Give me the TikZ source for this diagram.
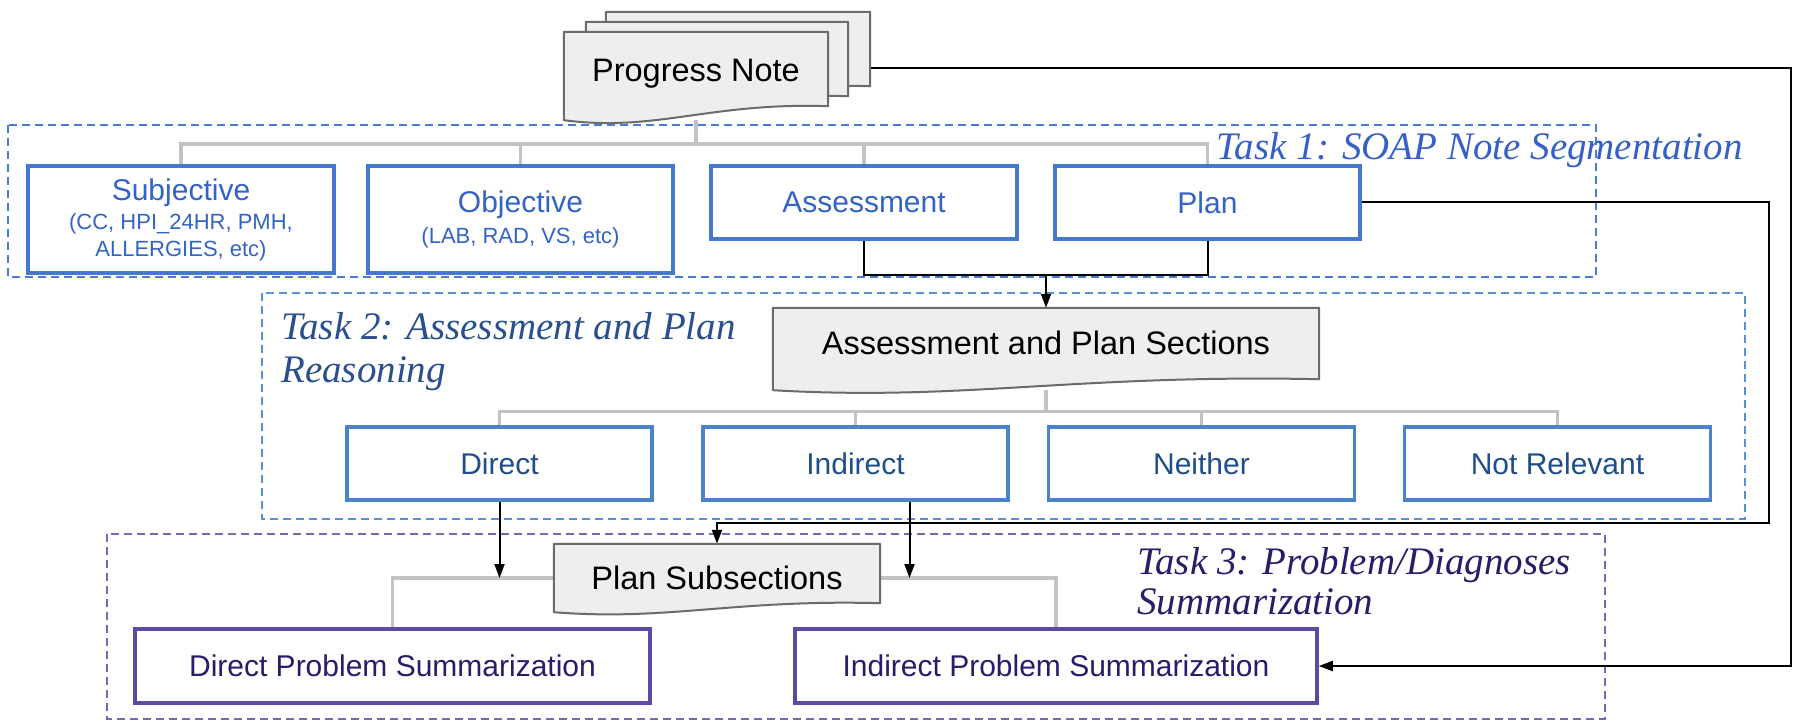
\documentclass[tikz,border=0pt]{standalone}
\usepackage{fontspec}
\setmainfont{Liberation Sans}
\newfontfamily\serifit{Liberation Serif}
\usetikzlibrary{calc,arrows.meta}
\pgfdeclarelayer{frames}
\pgfdeclarelayer{lines}
\pgfdeclarelayer{docs}
\pgfsetlayers{frames,lines,docs,main}
\definecolor{tonefr}{HTML}{4B7BD8}
\definecolor{toneb}{HTML}{4677D3}
\definecolor{tonet}{HTML}{3363C6}
\definecolor{tonel}{HTML}{3560C8}
\definecolor{ttwofr}{HTML}{5A8ED6}
\definecolor{ttwob}{HTML}{4A83C9}
\definecolor{ttwot}{HTML}{1F4E8C}
\definecolor{ttwol}{HTML}{2A4F8E}
\definecolor{tthrfr}{HTML}{7A67B8}
\definecolor{tthrb}{HTML}{5E49A4}
\definecolor{tthrt}{HTML}{2A1B6B}
\definecolor{tthrl}{HTML}{2B1B68}
\definecolor{docfill}{HTML}{EEEEEE}
\definecolor{docedge}{HTML}{6B6B6B}
\definecolor{treegray}{HTML}{C2C2C2}
\newcommand{\subf}{\fontsize{22}{26}\selectfont}
\newcommand{\docpath}[4]{%
  \draw[docline] (#1.north west) -- (#1.north east) -- ($(#1.south east)+(0,-#2)$)
    .. controls ($(#1.south west)!0.55!(#1.south east)+(0,-#3)$) and ($(#1.south west)!0.35!(#1.south east)+(0,#4)$) .. (#1.south west) -- cycle;}
\begin{document}
\begin{tikzpicture}[x=1pt,y=-1pt,
  boxbase/.style={rectangle, line width=3.5pt, fill=white, inner sep=0pt, align=center, font=\fontsize{30}{30}\selectfont},
  onebox/.style={boxbase, draw=toneb, text=tonet},
  twobox/.style={boxbase, draw=ttwob, text=ttwot, minimum height=73pt},
  threebox/.style={boxbase, draw=tthrb, text=tthrt, minimum height=74pt},
  docn/.style={rectangle, inner sep=0pt, font=\fontsize{32.5}{36}\selectfont, text=black},
  docline/.style={draw=docedge, fill=docfill, line width=2pt, line join=round},
  tree/.style={draw=treegray, line width=3.5pt},
  link/.style={draw=black, line width=2pt},
  arrowlink/.style={link, -{Triangle[length=14pt,width=10pt]}},
  frameone/.style={draw=tonefr, line width=2pt, dash pattern=on 8pt off 5pt},
  frametwo/.style={draw=ttwofr, line width=2pt, dash pattern=on 8pt off 5pt},
  framethree/.style={draw=tthrfr, line width=2pt, dash pattern=on 8pt off 5pt},
  tasklabel/.style={inner sep=0pt, align=left, font=\serifit\itshape\fontsize{39}{43}\selectfont}
]
\useasboundingbox (0,0) rectangle (1800,727);

% ---------- nodes ----------
\node[docn, minimum width=264pt, minimum height=88pt] (pnback) at (738,56) {};
\node[docn, minimum width=262pt, minimum height=88pt] (pnmid) at (717,66) {};
\node[docn, minimum width=264pt, minimum height=88pt, text depth=11pt] (pn) at (696,76) {Progress Note};

\node[onebox, minimum width=306pt, minimum height=107pt] (subj) at (181,219.5)
  {Subjective\\[-1pt]\subf (CC, HPI\_24HR, PMH,\\[-3pt]\subf ALLERGIES, etc)};
\node[onebox, minimum width=305pt, minimum height=107pt] (obj) at (520.5,219.5)
  {Objective\\[1pt]\subf (LAB, RAD, VS, etc)};
\node[onebox, minimum width=306pt, minimum height=73pt] (assess) at (864,202.5) {Assessment};
\node[onebox, minimum width=305pt, minimum height=73pt] (plan) at (1207.5,202.5) {Plan};

\node[docn, minimum width=546pt, minimum height=82pt, text depth=13pt] (aps) at (1046,349) {Assessment and Plan Sections};

\node[twobox, minimum width=305pt] (direct) at (499.5,463.5) {Direct};
\node[twobox, minimum width=305pt] (indirect) at (855.5,463.5) {Indirect};
\node[twobox, minimum width=306pt] (neither) at (1201.5,463.5) {Neither};
\node[twobox, minimum width=306pt] (notrel) at (1557.5,463.5) {Not Relevant};

\node[docn, minimum width=326pt, minimum height=68pt] (ps) at (717,578) {Plan Subsections};

\node[threebox, minimum width=515pt] (dps) at (392.5,666) {Direct Problem Summarization};
\node[threebox, minimum width=522pt] (ips) at (1056,666) {Indirect Problem Summarization};

\node[tasklabel, text=tonel, anchor=east] (lab1) at (1743,150) {Task 1: SOAP Note Segmentation};
\node[tasklabel, text=ttwol, anchor=west] (lab2) at (281,352) {Task 2: Assessment and Plan\\Reasoning};
\node[tasklabel, text=tthrl, anchor=west] (lab3) at (1137,581) {Task 3: Problem/Diagnoses\\[-3pt]Summarization};

% ---------- frames ----------
\begin{pgfonlayer}{frames}
\fill[white] (0,0) rectangle (1800,727);
\draw[frameone] (8,125) rectangle (1596,277);
\draw[frametwo] (262,293) rectangle (1745,519);
\draw[framethree] (107,534) rectangle (1605,719);
\end{pgfonlayer}

% ---------- documents ----------
\begin{pgfonlayer}{docs}
\docpath{pnback}{14}{18}{12}
\docpath{pnmid}{14}{18}{12}
\docpath{pn}{14}{18}{12}
\docpath{aps}{11}{16}{11}
\docpath{ps}{9}{13}{9}
\end{pgfonlayer}

% ---------- connectors ----------
\begin{pgfonlayer}{lines}
\coordinate (barone) at ([yshift=20pt]subj.north);
\draw[tree] (subj.north) -- (barone) -| (plan.north);
\draw[tree] (obj.north) -- (obj.north |- barone);
\draw[tree] (assess.north) -- (assess.north |- barone);
\draw[tree] (pn.south) -- (pn.south |- barone);

\coordinate (bartwo) at ([yshift=14pt]direct.north);
\draw[tree] (direct.north) -- (bartwo) -| (notrel.north);
\draw[tree] (indirect.north) -- (indirect.north |- bartwo);
\draw[tree] (neither.north) -- (neither.north |- bartwo);
\draw[tree] (aps.south) -- (aps.south |- bartwo);

\draw[tree] (ps.west) -| (dps.north);
\draw[tree] (ps.east) -| (ips.north);

\coordinate (join) at ([yshift=-34pt]assess.south);
\draw[link] (assess.south) -- (join) -| (plan.south);
\draw[arrowlink] (aps.north |- join) -- (aps.north);

\draw[arrowlink] (direct.south) -- (direct.south |- ps.west);
\coordinate (indarrow) at ([xshift=54pt]indirect.south);
\draw[arrowlink] (indarrow) -- (indarrow |- ps.east);

\coordinate (planright) at (1769,0);
\coordinate (planback) at (0,523);
\draw[arrowlink] (plan.east) -- (planright |- plan.east) -- (planright |- planback) -- (ps.north |- planback) -- (ps.north);

\coordinate (pnout) at ([yshift=-12pt]pnback.east);
\coordinate (pnright) at (1791,0);
\draw[arrowlink] (pnout) -- (pnright |- pnout) -- (pnright |- ips.east) -- (ips.east);
\end{pgfonlayer}
\end{tikzpicture}
\end{document}
